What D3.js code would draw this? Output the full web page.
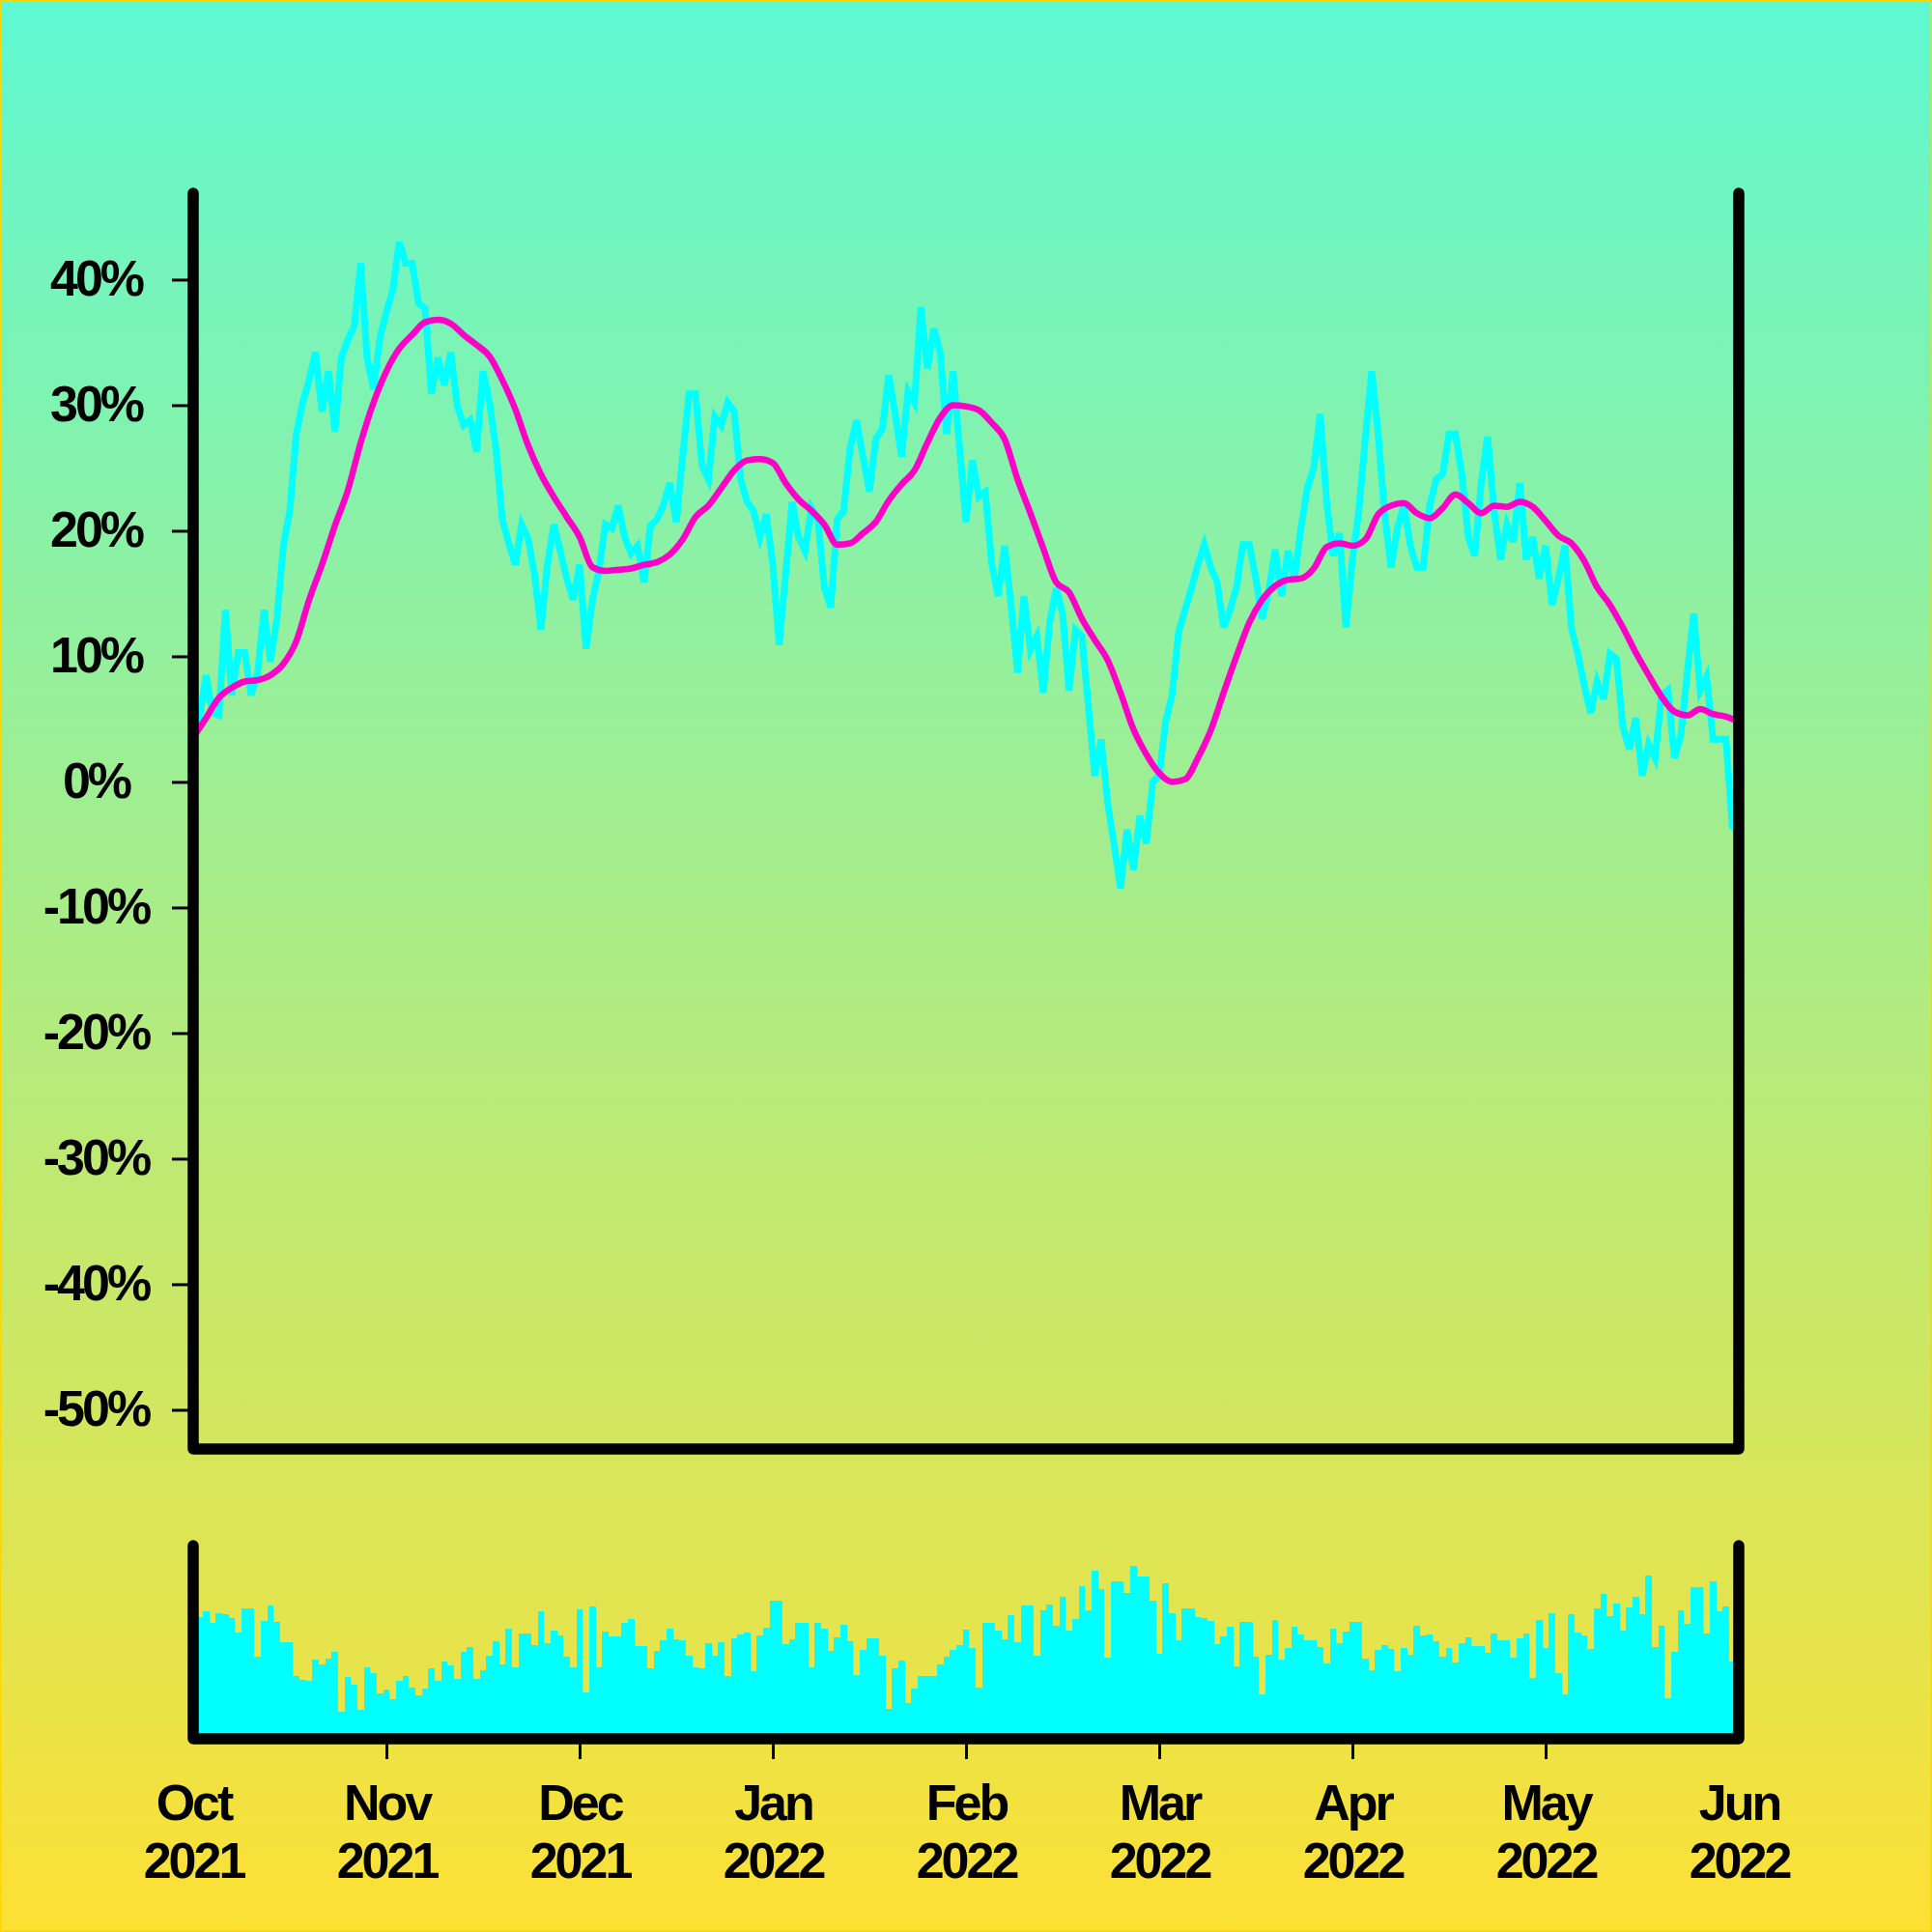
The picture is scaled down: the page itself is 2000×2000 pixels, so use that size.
<!DOCTYPE html>
<html><head><meta charset="utf-8">
<script src="https://cdn.jsdelivr.net/npm/d3@7"></script>
<style>html,body{margin:0;padding:0;background:#fff}svg{display:block}</style>
</head><body>
<script>
// ---- data ----
const monthLabels = ["Oct","Nov","Dec","Jan","Feb","Mar","Apr","May","Jun"];
const yearLabels  = ["2021","2021","2021","2022","2022","2022","2022","2022","2022"];
const yTicks = [-50,-40,-30,-20,-10,0,10,20,30,40];
// daily % change (241 points, Oct 1 2021 .. Jun 1 2022)
const changePct = [
 4.0, 5.2, 8.5, 5.5, 5.3, 13.7, 6.9, 10.3, 10.3, 6.9,
 8.7, 13.7, 9.6, 13.0, 18.8, 21.6, 27.7, 30.2, 32.0, 34.2,
 29.5, 32.7, 27.9, 33.8, 35.2, 36.3, 41.3, 33.8, 31.3, 35.4,
 37.4, 39.2, 43.0, 41.3, 41.3, 38.1, 37.7, 30.9, 33.8, 31.6,
 34.2, 29.9, 28.4, 28.8, 26.3, 32.7, 30.2, 26.6, 20.9, 19.0,
 17.3, 20.5, 19.4, 16.5, 12.1, 17.3, 20.5, 18.4, 16.2, 14.5,
 17.3, 10.6, 14.5, 16.8, 20.5, 20.2, 22.0, 19.5, 18.2, 18.8,
 15.9, 20.4, 20.9, 22.0, 23.8, 20.7, 25.9, 30.9, 30.9, 25.2,
 24.1, 29.1, 28.4, 30.2, 29.5, 24.1, 22.3, 21.6, 19.5, 21.3,
 17.3, 10.9, 16.6, 22.3, 19.5, 18.4, 21.8, 20.9, 15.5, 13.9,
 20.9, 21.6, 26.6, 28.8, 25.9, 23.1, 27.3, 28.1, 32.4, 29.3,
 25.9, 31.1, 30.2, 37.8, 32.9, 36.1, 34.2, 27.7, 32.7, 26.6,
 20.7, 25.6, 22.7, 23.1, 17.3, 14.8, 18.8, 14.1, 8.7, 14.8,
 10.5, 11.6, 7.1, 12.7, 15.4, 13.4, 7.3, 12.1, 11.6, 6.0,
 0.5, 3.4, -1.7, -5.0, -8.5, -3.8, -7.0, -2.7, -4.9, 0.0,
 0.5, 4.8, 6.9, 11.9, 13.7, 15.4, 17.3, 18.9, 17.1, 15.9,
 12.3, 13.7, 15.5, 18.9, 18.9, 16.2, 13.0, 15.2, 18.5, 14.8,
 18.4, 16.2, 20.2, 23.4, 25.0, 29.3, 22.3, 18.0, 19.8, 12.3,
 17.7, 21.6, 27.3, 32.7, 27.7, 21.3, 17.1, 20.2, 22.0, 18.8,
 17.1, 17.1, 22.0, 24.1, 24.5, 27.7, 27.7, 24.5, 19.5, 18.0,
 23.8, 27.5, 21.6, 17.7, 20.5, 19.1, 23.8, 17.7, 19.5, 16.2,
 18.8, 14.1, 16.2, 18.8, 12.3, 10.2, 7.7, 5.5, 8.0, 6.6,
 10.2, 9.8, 4.4, 2.6, 5.1, 0.5, 3.0, 1.9, 6.9, 7.3,
 1.9, 3.7, 8.7, 13.4, 7.3, 8.4, 3.4, 3.4, 3.4, -3.5,
 -4.0
];
// moving average, read every second day (day 0, 2, 4, ... 240)
const movingAvg = [
 3.5, 5.1, 6.7, 7.5, 8.0, 8.1, 8.5, 9.4, 11.2, 14.5,
 17.3, 20.4, 23.2, 27.0, 30.2, 32.7, 34.5, 35.6, 36.6, 36.8,
 36.5, 35.6, 34.8, 33.9, 32.0, 29.7, 26.8, 24.5, 22.7, 21.1,
 19.5, 17.1, 16.8, 16.9, 17.0, 17.3, 17.5, 18.1, 19.3, 21.1,
 22.0, 23.4, 24.8, 25.6, 25.7, 25.4, 23.8, 22.5, 21.6, 20.5,
 18.9, 19.0, 19.8, 20.7, 22.4, 23.7, 24.8, 27.0, 29.0, 30.0,
 29.9, 29.6, 28.6, 27.3, 24.1, 21.4, 18.6, 15.9, 15.1, 13.0,
 11.3, 9.7, 7.1, 4.2, 2.2, 0.7, 0.0, 0.2, 1.9, 4.1,
 7.1, 10.0, 12.7, 14.5, 15.6, 16.1, 16.2, 17.0, 18.7, 19.0,
 18.8, 19.3, 21.3, 22.0, 22.2, 21.4, 21.0, 21.8, 22.9, 22.2,
 21.4, 22.0, 21.9, 22.3, 21.9, 20.8, 19.6, 19.0, 17.6, 15.5,
 14.1, 12.3, 10.3, 8.5, 6.8, 5.6, 5.3, 5.8, 5.4, 5.2,
 4.8
];
const maEvery = 2;
// daily volume (relative units 0..100)
const volume = [
 62.0, 63.0, 65.8, 59.8, 64.8, 64.7, 62.3, 55.0, 67.3, 67.3,
 42.3, 61.0, 69.2, 60.3, 50.0, 50.0, 32.5, 30.3, 30.0, 41.2,
 38.3, 41.3, 45.2, 14.2, 32.0, 27.8, 15.2, 37.0, 34.0, 23.7,
 25.3, 20.5, 30.0, 32.5, 26.5, 22.3, 26.0, 36.5, 30.0, 40.0,
 38.0, 30.8, 44.8, 47.3, 31.2, 35.3, 42.8, 50.5, 38.3, 57.0,
 37.0, 54.5, 54.5, 48.3, 66.0, 49.5, 56.0, 53.5, 42.5, 37.2,
 67.0, 24.2, 68.3, 37.2, 55.3, 53.0, 53.0, 60.0, 61.8, 47.8,
 47.8, 36.3, 45.5, 50.8, 57.0, 51.7, 51.2, 42.8, 37.0, 36.7,
 49.5, 43.0, 50.0, 32.3, 52.0, 54.0, 54.8, 35.0, 53.3, 57.5,
 71.5, 71.5, 49.0, 51.3, 60.0, 60.0, 37.2, 60.0, 57.0, 45.7,
 52.5, 59.2, 50.5, 33.0, 45.8, 52.0, 52.0, 43.0, 15.7, 36.5,
 40.3, 18.5, 25.8, 32.5, 32.3, 32.3, 38.3, 42.7, 46.0, 48.3,
 56.3, 47.0, 26.3, 59.8, 59.8, 55.8, 51.7, 63.8, 50.0, 69.0,
 69.0, 43.2, 66.3, 69.3, 58.3, 73.5, 55.8, 61.8, 79.2, 66.7,
 86.8, 77.5, 42.0, 81.3, 81.3, 75.5, 89.5, 83.8, 83.8, 71.5,
 44.0, 80.5, 65.0, 50.8, 67.3, 67.3, 63.0, 62.3, 61.0, 48.8,
 53.0, 58.0, 37.5, 60.5, 60.5, 42.5, 23.0, 43.3, 61.7, 41.2,
 47.0, 57.8, 54.2, 50.8, 50.8, 47.5, 39.2, 57.0, 49.5, 55.5,
 60.3, 60.3, 41.7, 35.3, 46.2, 48.3, 46.5, 35.0, 47.0, 43.3,
 58.3, 53.7, 53.8, 50.5, 42.3, 47.0, 39.5, 49.5, 52.3, 48.0,
 47.8, 44.7, 54.5, 51.2, 51.2, 42.0, 52.0, 54.7, 31.7, 61.7,
 47.0, 64.8, 34.2, 23.2, 64.3, 55.0, 53.7, 46.3, 67.7, 74.8,
 63.5, 69.8, 56.2, 68.0, 73.5, 64.5, 84.3, 47.7, 58.3, 21.2,
 45.0, 66.3, 59.5, 78.3, 78.3, 54.5, 81.5, 66.0, 68.3, 40.2,
 86.7
];
const daysPerMonthTick = 30;

// ---- drawing ----
const W = 2000, H = 2000;
const FONT = "'Liberation Sans', Arial, Helvetica, sans-serif";
const svg = d3.select("body").append("svg").attr("width", W).attr("height", H);
const defs = svg.append("defs");
const grad = defs.append("linearGradient").attr("id", "bg")
  .attr("x1", 0).attr("y1", 0).attr("x2", 0).attr("y2", 1);
grad.append("stop").attr("offset", "0%").attr("stop-color", "#5ef8d2");
grad.append("stop").attr("offset", "100%").attr("stop-color", "#fde034");
svg.append("rect").attr("width", W).attr("height", H).attr("fill", "url(#bg)");
svg.append("rect").attr("x", 0.75).attr("y", 0.75).attr("width", W - 1.5).attr("height", H - 1.5)
  .attr("fill", "none").attr("stroke", "#ffd700").attr("stroke-width", 1.5);

const x = d3.scaleLinear().domain([0, changePct.length - 1]).range([200, 1800]);
const y = d3.scaleLinear().domain([-53.12, 46.88]).range([1500, 200]);
const yv = d3.scaleLinear().domain([0, 100]).range([1800, 1600]);

// volume bars
svg.append("g").selectAll("rect").data(volume).join("rect")
  .attr("x", (d, i) => Math.round(x(i - 0.5)))
  .attr("width", (d, i) => Math.round(x(i + 0.5)) - Math.round(x(i - 0.5)))
  .attr("y", d => yv(d))
  .attr("height", d => yv(0) - yv(d))
  .attr("fill", "#00ffff")
  .attr("shape-rendering", "crispEdges");

// price change line
const line = d3.line().x((d, i) => x(i)).y(d => y(d));
svg.append("path").datum(changePct).attr("d", line)
  .attr("fill", "none").attr("stroke", "#00ffff").attr("stroke-width", 7);

// moving average
const maLine = d3.line().x((d, i) => x(i * maEvery)).y(d => y(d)).curve(d3.curveMonotoneX);
svg.append("path").datum(movingAvg).attr("d", maLine)
  .attr("fill", "none").attr("stroke", "#ff00c8").attr("stroke-width", 6.5)
  .attr("stroke-linejoin", "round");

// y axis
const yAxis = svg.append("g").attr("transform", "translate(200,0)")
  .call(d3.axisLeft(y).tickValues(yTicks).tickSize(22).tickFormat(d => d + "%"));
yAxis.select(".domain").remove();
yAxis.selectAll(".tick line").attr("stroke", "#000").attr("stroke-width", 3);
yAxis.selectAll(".tick text")
  .attr("x", -100.5).attr("dy", "0.31em")
  .attr("text-anchor", "middle")
  .style("font-family", FONT).style("font-weight", "bold")
  .style("font-size", "52px").style("letter-spacing", "-3px")
  .attr("fill", "#000");

// x axis (under volume panel)
const monthIdx = monthLabels.map((m, k) => k * daysPerMonthTick);
const xAxis = svg.append("g").attr("transform", "translate(0,1800)")
  .call(d3.axisBottom(x).tickValues(monthIdx).tickSize(21).tickFormat(""));
xAxis.select(".domain").remove();
xAxis.selectAll(".tick line").attr("stroke", "#000").attr("stroke-width", 3)
  .attr("display", (d, k) => (k === 0 || k === monthIdx.length - 1) ? "none" : null);
xAxis.selectAll(".tick text").remove();
xAxis.selectAll(".tick").each(function(d, k) {
  const t = d3.select(this).append("text")
    .attr("text-anchor", "middle").attr("fill", "#000")
    .style("font-family", FONT).style("font-weight", "bold")
    .style("font-size", "52px").style("letter-spacing", "-3px");
  t.append("tspan").attr("x", 0).attr("y", 84).text(monthLabels[k]);
  t.append("tspan").attr("x", 0).attr("y", 144).text(yearLabels[k]);
});

// frames
svg.append("path").attr("d", `M${x(0)},200V${y(-53.12)}H${x(changePct.length - 1)}V200`)
  .attr("fill", "none").attr("stroke", "#000").attr("stroke-width", 11.5)
  .attr("stroke-linecap", "round").attr("stroke-linejoin", "round");
svg.append("path").attr("d", `M${x(0)},${yv(100)}V${yv(0)}H${x(changePct.length - 1)}V${yv(100)}`)
  .attr("fill", "none").attr("stroke", "#000").attr("stroke-width", 11.5)
  .attr("stroke-linecap", "round").attr("stroke-linejoin", "round");
</script>
</body></html>
